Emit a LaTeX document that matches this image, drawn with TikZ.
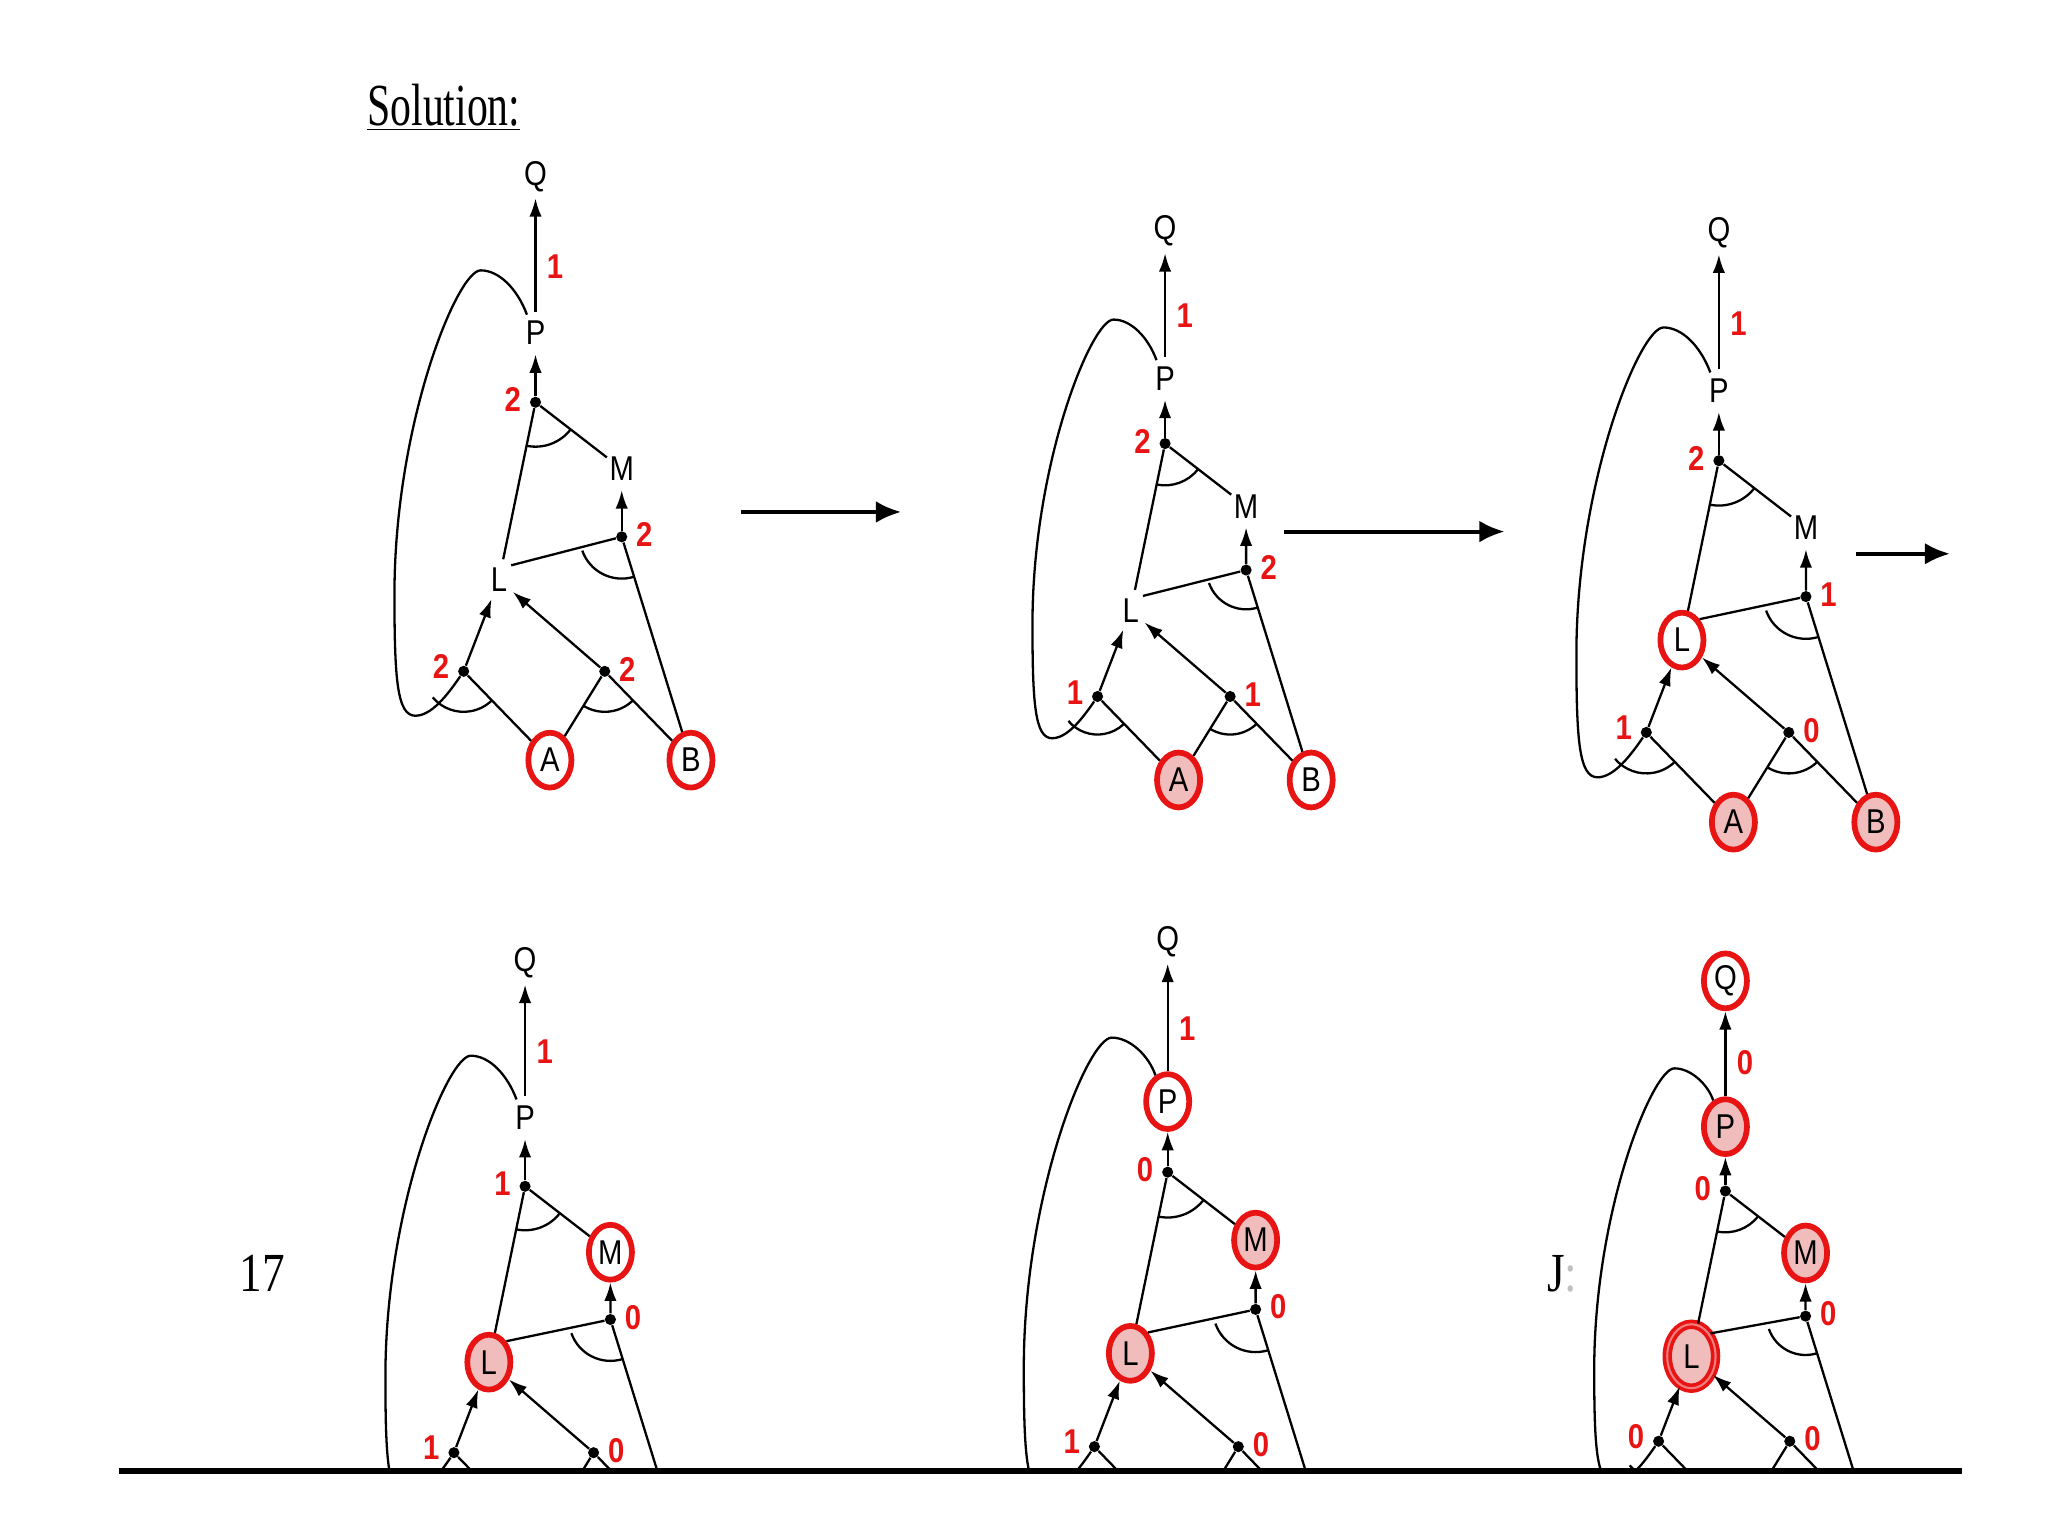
\documentclass[tikz,border=0pt]{standalone}
\usepackage{fontspec}
\setmainfont{Liberation Serif}[FakeStretch=0.82]
\setsansfont{Liberation Sans}[FakeStretch=0.85]
\usetikzlibrary{arrows.meta, shapes.geometric}

\definecolor{kbred}{RGB}{232,20,20}
\definecolor{kbpink}{RGB}{241,188,188}

\tikzset{
  atom/.style={ellipse, inner sep=0pt, minimum width=0.5cm, minimum height=0.64cm,
    font=\sffamily\fontsize{15}{15}\selectfont},
  agenda/.style={draw=kbred, line width=2.5pt, fill=white,
    minimum width=0.66cm, minimum height=0.84cm},
  known/.style={agenda, fill=kbpink},
  knowntwice/.style={known, line width=1.6pt, double=kbred!55, double distance=0.9pt,
    minimum width=0.74cm, minimum height=0.98cm},
  junc/.style={circle, fill=black, inner sep=0pt, minimum size=0.17cm},
  cnt/.style={text=kbred, inner sep=3.5pt, font=\sffamily\bfseries\fontsize{15}{15}\selectfont},
  link/.style={line width=1pt},
  feed/.style={link, -{Latex[length=8pt, width=5.4pt]}},
  stage/.style={line width=1.8pt, -{Latex[length=11pt, width=9.5pt]}},
  sA/.style={}, sB/.style={}, sL/.style={}, sM/.style={}, sP/.style={}, sQ/.style={}
}

\def\kbA{A}
\def\kbB{B}

% #1 prefix, #2 scope options, #3 count on P->Q, #4 JP, #5 JM, #6 JL, #7 JK
\newcommand{\kbpanel}[7]{%
  \begin{scope}[#2]
    % atoms
    \node[atom, sQ] (#1Q) at (0,0) {Q};
    \node[atom, sP] (#1P) at (0,-120) {P};
    \node[atom, sM] (#1M) at (66,-224) {M};
    \node[atom, sL] (#1L) at (-28,-309) {L};
    \node[atom, sA] (#1A) at (11,-447) {\kbA};
    \node[atom, sB] (#1B) at (119,-447) {\kbB};
    % rule junctions with their counts
    \node[junc] (#1JP) at (0,-173) {};
    \node[junc] (#1JM) at (66,-276) {};
    \node[junc] (#1JL) at (-55,-379) {};
    \node[junc] (#1JK) at (53,-379) {};
    \node[cnt, anchor=east] (#1cP) at ([yshift=1pt]#1JP.west) {#4};
    \node[cnt, anchor=west] (#1cM) at ([yshift=1pt]#1JM.east) {#5};
    \node[cnt, anchor=east] (#1cL) at ([yshift=2pt]#1JL.west) {#6};
    \node[cnt, anchor=west] (#1cK) at ([yshift=1pt]#1JK.east) {#7};
    % edges
    \draw[feed] (#1P) -- node[cnt, right=1pt, pos=0.4] (#1cQ) {#3} (#1Q);
    \draw[feed] (#1JP) -- (#1P);
    \draw[feed] (#1JM) -- (#1M);
    \draw[feed] (#1JL) -- (#1L);
    \draw[feed] (#1JK) -- (#1L);
    \draw[link] (#1L) -- (#1JP) -- (#1M);
    \draw[link] (#1L.50) -- (#1JM) -- (#1B);
    \draw[link] (#1JL) -- (#1A) -- (#1JK) -- (#1B);
    % loop from P back to the P,A rule
    \draw[link] (#1P.115) .. controls (-14,-86) and (-28,-72) .. (-42,-72)
      .. controls (-60,-72) and (-108,-190) .. (-108,-320)
      .. controls (-108,-385) and (-106,-413) .. (-92,-413)
      .. controls (-80,-413) and (-68,-398) .. (#1JL);
    % conjunction arcs
    \draw[link] (#1JP) ++(-101.6:34) arc[start angle=-101.6, end angle=-37.7, radius=34];
    \draw[link] (#1JM) ++(-160.7:32) arc[start angle=-160.7, end angle=-72.9, radius=32];
    \draw[link] (#1JL) ++(-140:31) arc[start angle=-140, end angle=-46.3, radius=31];
    \draw[link] (#1JK) ++(-121.3:31) arc[start angle=-121.3, end angle=-46.3, radius=31];
  \end{scope}}

\begin{document}
\begin{tikzpicture}[x=0.02cm, y=0.02cm]
  \useasboundingbox (0,0) rectangle (1568,1176);
  \node[anchor=base west, font=\fontsize{26}{26}\selectfont\addfontfeatures{FakeStretch=0.7}]
    (title) at (275,1080) {\underline{Solution:}};
  % top row
  \kbpanel{a}{shift={(410,1041)}, sA/.style=agenda, sB/.style=agenda}{1}{2}{2}{2}{2}
  \kbpanel{b}{shift={(892,999)}, scale=0.94, sA/.style=known, sB/.style=agenda}{1}{2}{2}{1}{1}
  \kbpanel{c}{shift={(1316,998)}, scale=1.01, sA/.style=known, sB/.style=known,
    sL/.style=agenda}{1}{2}{1}{1}{0}
  % steps
  \coordinate (go1) at (567,784);  \coordinate (to1) at (690,784);
  \coordinate (go2) at (983,769);  \coordinate (to2) at (1152,769);
  \coordinate (go3) at (1421,752); \coordinate (to3) at (1493,752);
  \foreach \s in {1,2,3}
    \draw[stage] (go\s) -- (to\s);
  % bottom row, cut off at the rule
  \begin{scope}
    \def\kbA{}\def\kbB{}
    \clip (0,50) rectangle (1568,1176);
    \kbpanel{d}{shift={(402,439)}, scale=0.99, sA/.style=known, sB/.style=known,
      sL/.style=known, sM/.style=agenda}{1}{1}{0}{1}{0}
    \kbpanel{e}{shift={(894,455)}, scale=1.02, sA/.style=known, sB/.style=known,
      sL/.style=known, sM/.style=known, sP/.style=agenda}{1}{0}{0}{1}{0}
    \kbpanel{f}{shift={(1321,425)}, scale=0.93, sA/.style=known, sB/.style=known,
      sL/.style=knowntwice, sM/.style=known, sP/.style=known, sQ/.style=agenda}{0}{0}{0}{0}{0}
  \end{scope}
  \node[font=\fontsize{24}{24}\selectfont] (pageno) at (201,201) {17};
  \node[font=\fontsize{24}{24}\selectfont] (jmark) at (1196,201) {J\textcolor{black!25}{:}};
  \coordinate (rulel) at (91,50);
  \coordinate (ruler) at (1502,50);
  \draw[line width=2.6pt] (rulel) -- (ruler);
\end{tikzpicture}
\end{document}
